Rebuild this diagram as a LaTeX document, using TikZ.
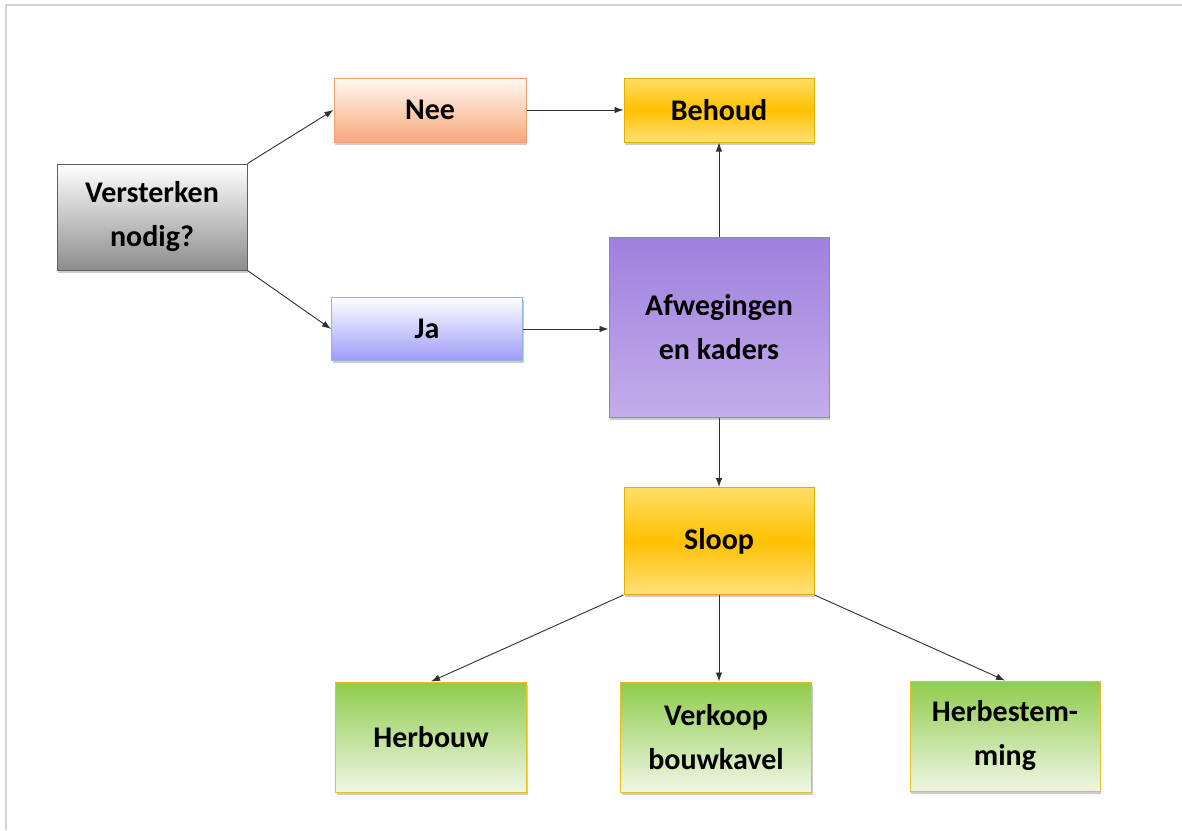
\documentclass[tikz,border=0pt]{standalone}
\usepackage{fontspec}
\setmainfont{Carlito}
\usetikzlibrary{arrows.meta,shadows}

\definecolor{greyline}{HTML}{606060}
\definecolor{greybottom}{HTML}{8C8C8C}
\definecolor{orangeline}{HTML}{F0A070}
\definecolor{orangebottom}{HTML}{F7A77A}
\definecolor{blueline}{HTML}{8EB4E3}
\definecolor{bluebottom}{HTML}{9C9CF8}
\definecolor{goldline}{HTML}{E0B000}
\definecolor{goldtop}{HTML}{FFDD66}
\definecolor{goldmid}{HTML}{FFC000}
\definecolor{goldbottom}{HTML}{FFE07A}
\definecolor{purpleline}{HTML}{8C8C9C}
\definecolor{purpletop}{HTML}{9F80DE}
\definecolor{purplebottom}{HTML}{C3ADEA}
\definecolor{greenline}{HTML}{E6C020}
\definecolor{greentop}{HTML}{8FCC4C}
\definecolor{greenbottom}{HTML}{EEF6E4}
\definecolor{arrowgrey}{HTML}{303030}

\tikzset{
  box/.style={rectangle, draw, line width=1pt, align=center, inner sep=0pt,
    minimum width=190pt,
    drop shadow={shadow xshift=1pt, shadow yshift=-2.5pt, opacity=0.4},
    font=\fontsize{30}{44}\selectfont\bfseries},
  greybox/.style={box, draw=greyline, top color=white, bottom color=greybottom},
  neebox/.style={box, draw=orangeline, top color=orange!5, bottom color=orangebottom},
  jabox/.style={box, draw=blueline, top color=white, bottom color=bluebottom},
  goldbox/.style={box, draw=goldline, top color=goldtop, bottom color=goldbottom, middle color=goldmid},
  purplebox/.style={box, draw=purpleline, top color=purpletop, bottom color=purplebottom},
  greenbox/.style={box, draw=greenline, top color=greentop, bottom color=greenbottom},
  arr/.style={-{Latex[length=9pt,width=6.5pt]}, arrowgrey, line width=0.9pt}
}

\begin{document}
\begin{tikzpicture}[x=1pt, y=-1pt]
    % Page frame
    \useasboundingbox[fill=white] (0,0) rectangle (1182,830);
    \draw[gray!35, line width=1.2pt] (6,830) -- (6,5) -- (1182,5);

    % Question and answers
    \node[greybox, minimum height=106pt] (vraag) at (152,217) {Versterken\\nodig?};
    \node[neebox, minimum width=192pt, minimum height=64pt] (nee) at (430,110) {Nee};
    \node[jabox, minimum width=191pt, minimum height=63pt] (ja) at (427,329) {Ja};

    % Middle column
    \node[goldbox, minimum height=64pt] (behoud) at (719,110) {Behoud};
    \node[purplebox, minimum width=220pt, minimum height=180pt] (afweging) at (719,327) {Afwegingen\\en kaders};
    \node[goldbox, minimum height=107pt] (sloop) at (719,541) {Sloop};

    % Outcomes after demolition
    \node[greenbox, minimum width=191pt, minimum height=110pt] (herbouw) at (431,737) {Herbouw};
    \node[greenbox, minimum width=191pt, minimum height=110pt] (verkoop) at (716,737) {Verkoop\\bouwkavel};
    \node[greenbox, minimum width=190pt, minimum height=110pt] (herbestem) at (1005,736) {Herbestem-\\ming};

    % Connectors
    \draw[arr] (vraag.north east) -- (nee.west);
    \draw[arr] (vraag.south east) -- (ja.west);
    \draw[arr] (nee.east) -- (behoud.west);
    \draw[arr] (ja.east) -- (ja.east -| afweging.west);
    \draw[arr] (afweging.north) -- (behoud.south);
    \draw[arr] (afweging.south) -- (sloop.north);
    \draw[arr] (sloop.south west) -- (herbouw.north);
    \draw[arr] (sloop.south) -- (sloop.south |- verkoop.north);
    \draw[arr] (sloop.south east) -- (herbestem.north);
\end{tikzpicture}
\end{document}
